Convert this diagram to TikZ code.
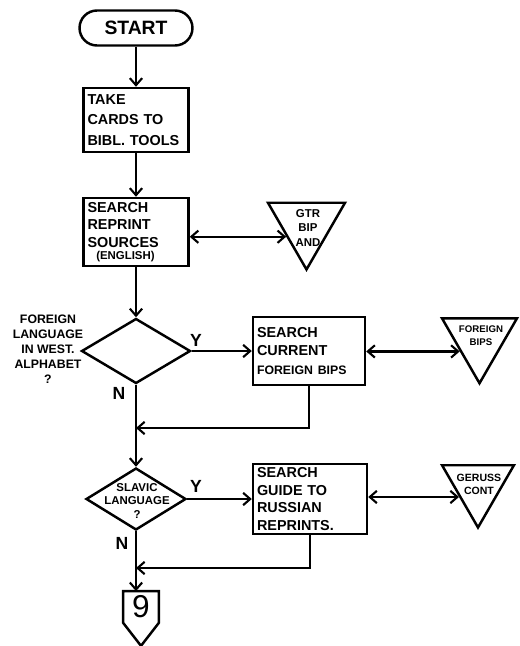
\documentclass[tikz,border=0pt]{standalone}
\usepackage{fontspec}
\setmainfont{Liberation Sans}
\usetikzlibrary{shapes.geometric,arrows.meta,calc}
\begin{document}
\begin{tikzpicture}[x=0.02cm,y=-0.02cm,
  ln/.style={line width=1.4pt},
  tip/.tip={Straight Barb[length=4pt,width=7pt,line width=1.2pt]},
  arr/.style={ln,-tip},
  darr/.style={ln,tip-tip},
  txt/.style={font=\bfseries\fontsize{8.2}{10}\selectfont},
  procbox/.style={draw,ln,rectangle,txt,align=left,inner xsep=0.08cm,inner ysep=1pt,
    text width=#1},
  decision/.style={draw,ln,diamond,inner sep=0pt},
  store/.style={draw,ln,regular polygon,regular polygon sides=3,shape border rotate=180,inner sep=0pt},
  lab/.style={font=\bfseries\fontsize{10}{12}\selectfont}
]
\useasboundingbox (0,0) rectangle (520,646);

% main column
\node[draw,ln,rounded corners=0.35cm,minimum width=2.26cm,minimum height=0.7cm,
  font=\bfseries\fontsize{11}{13}\selectfont] (start) at (136,28) {START};
\node[procbox=1.94cm,minimum height=1.28cm,font=\bfseries\fontsize{8.2}{11.8}\selectfont] (take) at (136,120)
  {TAKE\\CARDS TO\\BIBL. TOOLS};
\node[procbox=1.94cm,minimum height=1.36cm] (repr) at (136,232)
  {SEARCH\\REPRINT\\SOURCES\\[-3pt]\hspace*{5pt}{\fontsize{6.5}{7}\selectfont(ENGLISH)}};

\node[decision,minimum width=2.18cm,minimum height=1.3cm] (d1) at (136,351) {};
\node[font=\bfseries\fontsize{7}{8.5}\selectfont,align=center] (d1q) at (48,349)
  {FOREIGN\\LANGUAGE\\IN WEST.\\ALPHABET\\?};
\node[lab] (y1) at (196,340) {Y};
\node[lab] (n1) at (119,393) {N};

\node[procbox=2.08cm,minimum height=1.36cm,font=\bfseries\fontsize{8.2}{10.5}\selectfont] (curr) at (309,351)
  {SEARCH\\CURRENT\\{\fontsize{7}{8}\selectfont FOREIGN BIPS}};

\node[decision,minimum width=2.0cm,minimum height=1.24cm] (d2) at (136,499) {};
\node[font=\bfseries\fontsize{6.5}{7.6}\selectfont,align=center] (d2q) at (137,501)
  {SLAVIC\\LANGUAGE\\?};
\node[lab] (y2) at (196,486) {Y};
\node[lab] (n2) at (122,543) {N};

\node[procbox=2.12cm,minimum height=1.4cm] (russ) at (310,499)
  {SEARCH\\GUIDE TO\\RUSSIAN\\REPRINTS.};

% triangles (bibliographic tools)
\node[store,minimum size=1.78cm] (t1) at (306.5,225) {};
\node[font=\bfseries\fontsize{6.5}{8}\selectfont,align=center] (t1t) at (308,228)
  {GTR\\BIP\\AND};
\node[store,minimum size=1.73cm] (t2) at (479.5,340) {};
\node[font=\bfseries\fontsize{5.5}{7.5}\selectfont,align=center] (t2t) at (481,336)
  {FOREIGN\\BIPS};
\node[store,minimum size=1.66cm] (t3) at (478,486) {};
\node[font=\bfseries\fontsize{6}{7.5}\selectfont,align=center] (t3t) at (479,484)
  {GERUSS\\CONT};

% off-page connector
\node[font=\fontsize{18}{18}\selectfont,minimum width=0.7cm,minimum height=0.62cm,inner sep=0pt] (c9) at (141,607) {9};
\draw[ln] (c9.north west) -- (c9.south west) -- ($(c9.south)+(0,23)$) -- (c9.south east) -- (c9.north east) -- cycle;

% junctions
\coordinate (j1) at (136,428);
\coordinate (j2) at (136,568);

% connectors
\draw[arr] (start.south) -- (take.north);
\draw[arr] (take.south) -- (repr.north);
\draw[arr] (repr.south) -- (d1.north);
\draw[darr] (t1.210 -| repr.east) -- (t1.210);
\draw[arr] (d1.east) -- (curr.west);
\draw[darr] (t2.210 -| curr.east) -- (t2.210);
\draw[arr] (curr.south) |- (j1);
\draw[arr] (d1.south) -- (d2.north);
\draw[arr] (d2.east) -- (russ.west);
\draw[darr] (t3.210 -| russ.east) -- (t3.210);
\draw[arr] (russ.south) |- (j2);
\draw[arr] (d2.south) -- (d2.south |- c9.north);
\end{tikzpicture}
\end{document}
